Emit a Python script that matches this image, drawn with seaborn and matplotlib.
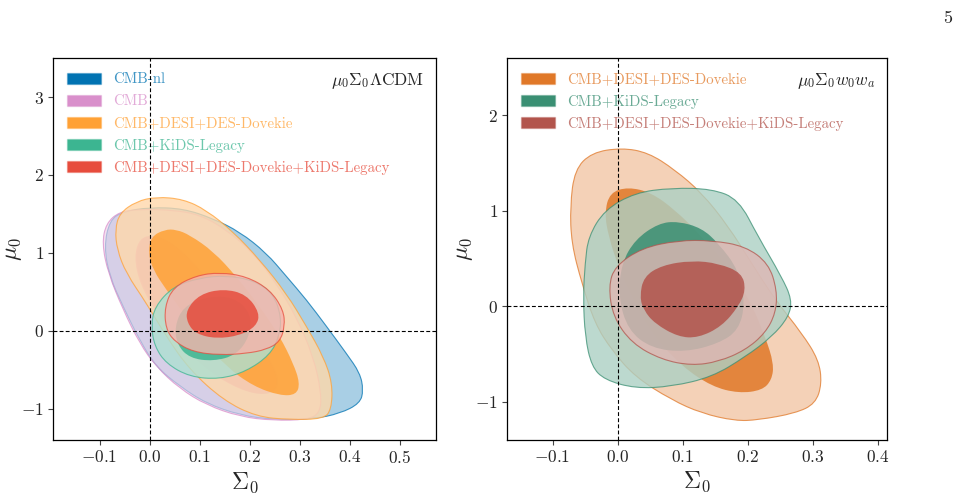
import matplotlib
matplotlib.use("Agg")
import matplotlib.pyplot as plt
import numpy as np
import seaborn as sns
from matplotlib.colors import to_rgb, to_rgba
from matplotlib.patches import Patch, PathPatch
from matplotlib.path import Path

# ---- left panel: mu0 Sigma0 LCDM (outer = 95%, inner = 68%) ----
nl95_x = [-0.091, -0.080, -0.053, 0.000, 0.067, 0.127, 0.180, 0.233, 0.273, 0.313, 0.353, 0.393, 0.420,
          0.427, 0.420, 0.380, 0.327, 0.247, 0.180, 0.113, 0.060, 0.013, -0.020, -0.053, -0.080]
nl95_y = [1.08, 1.42, 1.53, 1.585, 1.57, 1.44, 1.27, 1.00, 0.70, 0.40, 0.06, -0.29, -0.54,
          -0.76, -0.93, -1.06, -1.13, -1.14, -1.08, -0.93, -0.71, -0.46, -0.12, 0.31, 0.70]
nl68_x = [-0.017, -0.029, -0.017, 0.016, 0.062, 0.116, 0.182, 0.236, 0.260, 0.250, 0.210, 0.156, 0.102, 0.049, 0.009]
nl68_y = [1.19, 0.95, 0.61, 0.23, -0.16, -0.50, -0.76, -0.83, -0.71, -0.46, -0.07, 0.36, 0.78, 1.12, 1.23]

cmb95_x = [-0.095, -0.087, -0.060, -0.020, 0.047, 0.100, 0.153, 0.207, 0.253, 0.293, 0.327, 0.343,
           0.340, 0.313, 0.247, 0.180, 0.113, 0.060, 0.013, -0.020, -0.053, -0.083]
cmb95_y = [1.12, 1.38, 1.53, 1.56, 1.55, 1.49, 1.30, 1.00, 0.61, 0.18, -0.33, -0.80,
           -1.06, -1.14, -1.15, -1.10, -0.95, -0.74, -0.46, -0.16, 0.27, 0.74]
cmb68_x = [-0.020, -0.031, -0.020, 0.013, 0.060, 0.113, 0.180, 0.233, 0.257, 0.247, 0.207, 0.153, 0.100, 0.047, 0.007]
cmb68_y = [1.19, 0.95, 0.61, 0.23, -0.16, -0.50, -0.76, -0.83, -0.71, -0.46, -0.07, 0.36, 0.78, 1.12, 1.23]

dd95_x = [0.013, -0.027, -0.060, -0.069, -0.065, -0.047, -0.007, 0.033, 0.080, 0.147, 0.213,
          0.280, 0.347, 0.363, 0.365, 0.347, 0.313, 0.273, 0.220, 0.167, 0.113, 0.067]
dd95_y = [1.72, 1.66, 1.51, 1.30, 1.04, 0.74, 0.36, -0.07, -0.50, -0.89, -1.10,
          -1.14, -1.13, -1.01, -0.67, -0.33, 0.06, 0.48, 0.91, 1.27, 1.55, 1.69]
dd68_x = [0.030, 0.003, -0.003, 0.007, 0.033, 0.067, 0.107, 0.153, 0.207, 0.260,
          0.293, 0.300, 0.287, 0.260, 0.220, 0.173, 0.127, 0.080, 0.053]
dd68_y = [1.30, 1.21, 1.00, 0.78, 0.53, 0.23, -0.12, -0.46, -0.71, -0.83,
          -0.82, -0.67, -0.42, -0.07, 0.31, 0.70, 1.02, 1.23, 1.30]

kids95_x = [0.003, 0.010, 0.047, 0.100, 0.153, 0.207, 0.247, 0.263, 0.259, 0.240, 0.193, 0.140, 0.080, 0.033, 0.010]
kids95_y = [0.06, 0.31, 0.57, 0.68, 0.71, 0.65, 0.48, 0.18, -0.07, -0.31, -0.52, -0.62, -0.59, -0.42, -0.20]
kids68_x = [0.050, 0.067, 0.113, 0.167, 0.203, 0.200, 0.173, 0.127, 0.080, 0.055]
kids68_y = [0.06, 0.31, 0.44, 0.44, 0.23, -0.07, -0.31, -0.39, -0.35, -0.18]

all95_x = [0.030, 0.047, 0.093, 0.140, 0.193, 0.240, 0.267, 0.270, 0.260, 0.233, 0.193, 0.140, 0.087, 0.050, 0.032]
all95_y = [0.31, 0.56, 0.71, 0.75, 0.70, 0.53, 0.27, 0.06, -0.14, -0.24, -0.29, -0.31, -0.27, -0.14, 0.03]
all68_x = [0.073, 0.100, 0.147, 0.193, 0.220, 0.213, 0.180, 0.133, 0.093, 0.075]
all68_y = [0.27, 0.47, 0.54, 0.47, 0.23, 0.06, -0.06, -0.10, -0.04, 0.10]

# ---- right panel: mu0 Sigma0 w0 wa ----
wdd95_x = [-0.073, -0.066, -0.040, 0.006, 0.047, 0.088, 0.129, 0.170, 0.206, 0.242, 0.283, 0.309,
           0.314, 0.304, 0.273, 0.216, 0.181, 0.129, 0.083, 0.027, -0.009, -0.035, -0.055, -0.071]
wdd95_y = [1.05, 1.43, 1.61, 1.66, 1.61, 1.43, 1.19, 0.84, 0.45, 0.07, -0.28, -0.56,
           -0.81, -1.02, -1.12, -1.19, -1.20, -1.12, -0.98, -0.74, -0.46, -0.18, 0.24, 0.66]
wdd68_x = [-0.020, -0.012, 0.016, 0.052, 0.088, 0.124, 0.165, 0.201, 0.227, 0.240,
           0.237, 0.222, 0.186, 0.145, 0.099, 0.057, 0.027, 0.001, -0.014]
wdd68_y = [0.98, 1.19, 1.25, 1.19, 1.01, 0.77, 0.45, 0.10, -0.32, -0.60,
           -0.77, -0.88, -0.91, -0.84, -0.63, -0.32, 0.03, 0.42, 0.73]

wkids95_x = [-0.050, -0.045, -0.020, 0.027, 0.083, 0.145, 0.186, 0.216, 0.252, 0.268,
             0.263, 0.237, 0.196, 0.145, 0.083, 0.027, -0.020, -0.040, -0.050, -0.053]
wkids95_y = [0.45, 0.73, 1.01, 1.19, 1.24, 1.23, 1.12, 0.73, 0.31, 0.07,
             -0.11, -0.32, -0.53, -0.74, -0.84, -0.86, -0.77, -0.63, -0.32, 0.10]
wkids68_x = [0.006, 0.027, 0.063, 0.093, 0.129, 0.155, 0.186, 0.196, 0.186, 0.155, 0.104, 0.052, 0.016, 0.001]
wkids68_y = [0.45, 0.70, 0.87, 0.89, 0.82, 0.66, 0.38, 0.03, -0.25, -0.39, -0.48, -0.44, -0.25, 0.10]

wall95_x = [-0.014, -0.004, 0.037, 0.093, 0.145, 0.196, 0.232, 0.245, 0.243, 0.227, 0.196, 0.155, 0.114, 0.068, 0.022, -0.007]
wall95_y = [0.21, 0.42, 0.61, 0.69, 0.69, 0.63, 0.45, 0.17, -0.07, -0.28, -0.46, -0.58, -0.62, -0.56, -0.39, -0.11]
wall68_x = [0.034, 0.040, 0.068, 0.114, 0.155, 0.191, 0.197, 0.186, 0.160, 0.124, 0.093, 0.057, 0.040]
wall68_y = [0.10, 0.31, 0.43, 0.48, 0.45, 0.35, 0.17, 0.00, -0.21, -0.33, -0.32, -0.18, -0.04]

left_labels = ["CMB-nl", "CMB", "CMB+DESI+DES-Dovekie", "CMB+KiDS-Legacy",
               "CMB+DESI+DES-Dovekie+KiDS-Legacy"]
left_colors = ["#0173B2", "#D98FCB", "#FFA135", "#3CB591", "#E74C3C"]
right_labels = ["CMB+DESI+DES-Dovekie", "CMB+KiDS-Legacy", "CMB+DESI+DES-Dovekie+KiDS-Legacy"]
right_colors = ["#E07828", "#3A8F73", "#B2544C"]

left_sets = [(nl95_x, nl95_y, nl68_x, nl68_y),
             (cmb95_x, cmb95_y, cmb68_x, cmb68_y),
             (dd95_x, dd95_y, dd68_x, dd68_y),
             (kids95_x, kids95_y, kids68_x, kids68_y),
             (all95_x, all95_y, all68_x, all68_y)]
right_sets = [(wdd95_x, wdd95_y, wdd68_x, wdd68_y),
              (wkids95_x, wkids95_y, wkids68_x, wkids68_y),
              (wall95_x, wall95_y, wall68_x, wall68_y)]

sns.set_theme(style="ticks")
plt.rcParams["font.family"] = ["cmr10", "DejaVu Serif"]
plt.rcParams["mathtext.fontset"] = "cm"
plt.rcParams["axes.formatter.use_mathtext"] = True
plt.rcParams["axes.unicode_minus"] = True


def pastel(c, amount=0.42):
    rgb = np.array(to_rgb(c))
    return tuple(1 - amount * (1 - rgb))


def smooth_region(xs, ys, **kw):
    # closed quadratic-bezier outline through the read points
    pts = np.column_stack([xs, ys])
    mids = (pts + np.roll(pts, -1, axis=0)) / 2
    verts = [mids[-1]]
    codes = [Path.MOVETO]
    for i in range(len(pts)):
        verts += [pts[i], mids[i]]
        codes += [Path.CURVE3, Path.CURVE3]
    verts.append(mids[-1])
    codes.append(Path.CLOSEPOLY)
    return PathPatch(Path(verts, codes), **kw)


def draw_panel(ax, sets, colors, labels, tag, xlim, ylim, xticks, yticks, outer_alpha, label_x):
    for (ox, oy, ix, iy), c, oa in zip(sets, colors, outer_alpha):
        ax.add_patch(smooth_region(ox, oy, facecolor=to_rgba(pastel(c), oa),
                                   edgecolor=to_rgba(c, 0.75), lw=0.8))
        ax.add_patch(smooth_region(ix, iy, facecolor=to_rgba(c, 0.85),
                                   edgecolor="none"))
    ax.axvline(0, color="black", ls=(0, (3.5, 2)), lw=0.8, zorder=10)
    ax.axhline(0, color="black", ls=(0, (3.5, 2)), lw=0.8, zorder=10)
    ax.set_xlim(*xlim)
    ax.set_ylim(*ylim)
    ax.set_xticks(xticks)
    ax.set_yticks(yticks)
    ax.tick_params(labelsize=12.5, length=3.5, width=0.8, color="#444444", pad=3)
    for s in ax.spines.values():
        s.set_linewidth(0.9)
        s.set_color("black")
    ax.set_xlabel(r"$\Sigma_0$", fontsize=17, labelpad=3)
    ax.set_ylabel(r"$\mu_0$", fontsize=17)
    ax.yaxis.set_label_coords(label_x, 0.5)
    handles = [Patch(facecolor=c, edgecolor=to_rgba(c, 0.3), label=l) for c, l in zip(colors, labels)]
    ax.legend(handles=handles, loc="upper left", bbox_to_anchor=(0.036, 0.962), frameon=False,
              fontsize=10.7, borderaxespad=0, borderpad=0, handlelength=2.3, handleheight=0.8,
              handletextpad=0.8, labelspacing=0.55,
              labelcolor=[to_rgba(c, 0.75) for c in colors])
    ax.text(0.97, 0.94, tag, transform=ax.transAxes, ha="right", va="center", fontsize=12.5)


fig = plt.figure(figsize=(9.59, 4.99), dpi=100)
ax1 = fig.add_axes([0.0553, 0.1182, 0.3994, 0.7655])
ax2 = fig.add_axes([0.5287, 0.1182, 0.3962, 0.7655])

draw_panel(ax1, left_sets, left_colors, left_labels, r"$\mu_0\Sigma_0\Lambda\mathrm{CDM}$",
           (-0.193, 0.572), (-1.40, 3.50), [-0.1, 0.0, 0.1, 0.2, 0.3, 0.4, 0.5], [-1, 0, 1, 2, 3],
           [0.8, 0.65, 0.8, 0.8, 0.8], -0.075)
draw_panel(ax2, right_sets, right_colors, right_labels, r"$\mu_0\Sigma_0w_0w_a$",
           (-0.170, 0.414), (-1.40, 2.60), [-0.1, 0.0, 0.1, 0.2, 0.3, 0.4], [-1, 0, 1, 2],
           [0.8, 0.8, 0.8], -0.085)

fig.text(948 / 959, 1 - 18 / 499, "5", ha="center", va="center", fontsize=13)

fig.savefig("out.png", dpi=100)
